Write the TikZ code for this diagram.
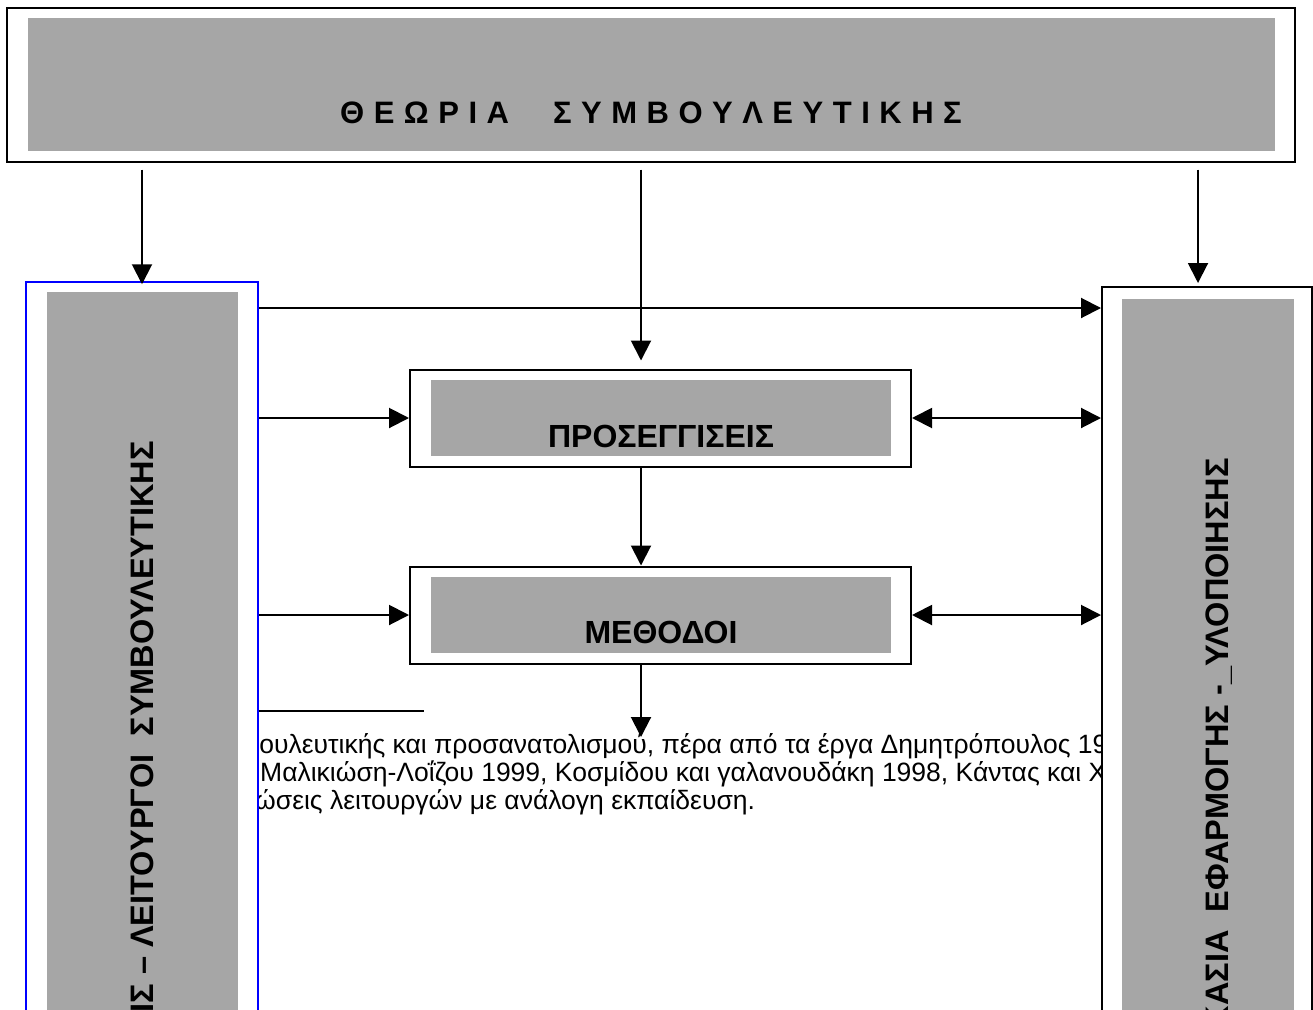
\documentclass[tikz,border=0pt]{standalone}
\usepackage{fontspec}
\setmainfont{Liberation Sans}
\usetikzlibrary{arrows.meta}
\definecolor{boxgray}{RGB}{166,166,166}
\newcommand\lsp{\hspace{9.5pt}}
\newcommand\wsp{\hspace{44pt}}
\begin{document}
\begin{tikzpicture}[x=1pt,y=-1pt,
  outerbox/.style={draw=black, line width=2pt, fill=white, inner sep=0pt},
  bluebox/.style={draw=blue, line width=1.5pt, fill=white, inner sep=0pt},
  graybox/.style={fill=boxgray, draw=none, inner sep=0pt},
  conn/.style={line width=2pt, -{Triangle[length=20pt,width=20pt]}},
  dconn/.style={line width=2pt, {Triangle[length=20pt,width=20pt]}-{Triangle[length=20pt,width=20pt]}},
  plain/.style={line width=2pt},
  title/.style={font=\fontsize{31}{37}\selectfont\bfseries, inner sep=0pt},
  head/.style={font=\fontsize{32.5}{38}\selectfont\bfseries, inner sep=0pt},
  midhead/.style={font=\fontsize{32}{38}\selectfont\bfseries, inner sep=0pt},
  body/.style={font=\fontsize{26.5}{30}\selectfont, inner sep=0pt, anchor=base west},
]
\clip (0,0) rectangle (1313,1009);
\fill[white] (0,0) rectangle (1313,1009);

% body text (behind the side boxes)
\node[body] (b1) at (244,753) {βουλευτικής και προσανατολισμού, πέρα από τα έργα Δημητρόπουλος 19};
\node[body] (b2) at (260,781) {Μαλικιώση-Λοΐζου 1999, Κοσμίδου και γαλανουδάκη 1998, Κάντας και Χ};
\node[body] (b3) at (255,809) {ώσεις λειτουργών με ανάλογη εκπαίδευση.};

% top box
\node[outerbox, minimum width=1288pt, minimum height=154pt] (top) at (651,84.5) {};
\node[graybox, minimum width=1247pt, minimum height=133pt] (topin) at (651.5,84.5) {};
\node[title, anchor=base] (ttl) at (651,123) {Θ\lsp Ε\lsp Ω\lsp Ρ\lsp Ι\lsp Α\wsp Σ\lsp Υ\lsp Μ\lsp Β\lsp Ο\lsp Υ\lsp Λ\lsp Ε\lsp Υ\lsp Τ\lsp Ι\lsp Κ\lsp Η\lsp Σ};

% left box
\node[bluebox, minimum width=232pt, minimum height=758pt] (lft) at (142,661) {};
\node[graybox, minimum width=191pt, minimum height=748pt] (lftin) at (142.5,666) {};
\node[head, rotate=90, anchor=base east] (ltxt) at (153,441) {ΙΣ – ΛΕΙΤΟΥΡΓΟΙ\ \ ΣΥΜΒΟΥΛΕΥΤΙΚΗΣ};

% right box
\node[outerbox, minimum width=210pt, minimum height=753pt] (rgt) at (1207,663.5) {};
\node[graybox, minimum width=172pt, minimum height=741pt] (rgtin) at (1208,669.5) {};
\node[head, rotate=90, anchor=base east] (rtxt) at (1228,458) {ΚΑΣΙΑ\ \ ΕΦΑΡΜΟΓΗΣ -\_ΥΛΟΠΟΙΗΣΗΣ};

% middle boxes
\node[outerbox, minimum width=501pt, minimum height=97pt] (pro) at (660.5,418) {};
\node[graybox, minimum width=460pt, minimum height=76pt] (proin) at (661,418) {};
\node[midhead, anchor=base] (ptxt) at (661,447) {ΠΡΟΣΕΓΓΙΣΕΙΣ};

\node[outerbox, minimum width=501pt, minimum height=97pt] (met) at (660.5,615) {};
\node[graybox, minimum width=460pt, minimum height=76pt] (metin) at (661,615) {};
\node[midhead, anchor=base] (mtxt) at (661,643) {ΜΕΘΟΔΟΙ};

% helper coordinates
\coordinate (xl) at (142,0);
\coordinate (xm) at (641,0);
\coordinate (xr) at (1198,0);
\coordinate (y1) at (0,308);
\coordinate (hl) at (424,711);
\coordinate (mend) at (641,737);

% connectors
\draw[conn] ([yshift=-7pt]top.south -| xl) -- ([yshift=-3pt]lft.north -| xl);
\draw[conn] ([yshift=-7pt]top.south -| xm) -- ([yshift=8pt]pro.north -| xm);
\draw[conn] ([yshift=-7pt]top.south -| xr) -- ([yshift=3pt]rgt.north -| xr);

\draw[conn] (lft.east |- y1) -- (rgt.west |- y1);
\draw[conn] (lft.east |- pro.west) -- (pro.west);
\draw[conn] (lft.east |- met.west) -- (met.west);
\draw[dconn] (pro.east) -- (rgt.west |- pro.east);
\draw[dconn] (met.east) -- (rgt.west |- met.east);
\draw[conn] (pro.south -| xm) -- (met.north -| xm);
\draw[conn] (met.south -| xm) -- (mend);
\draw[plain] (lft.east |- hl) -- (hl);
\end{tikzpicture}
\end{document}
